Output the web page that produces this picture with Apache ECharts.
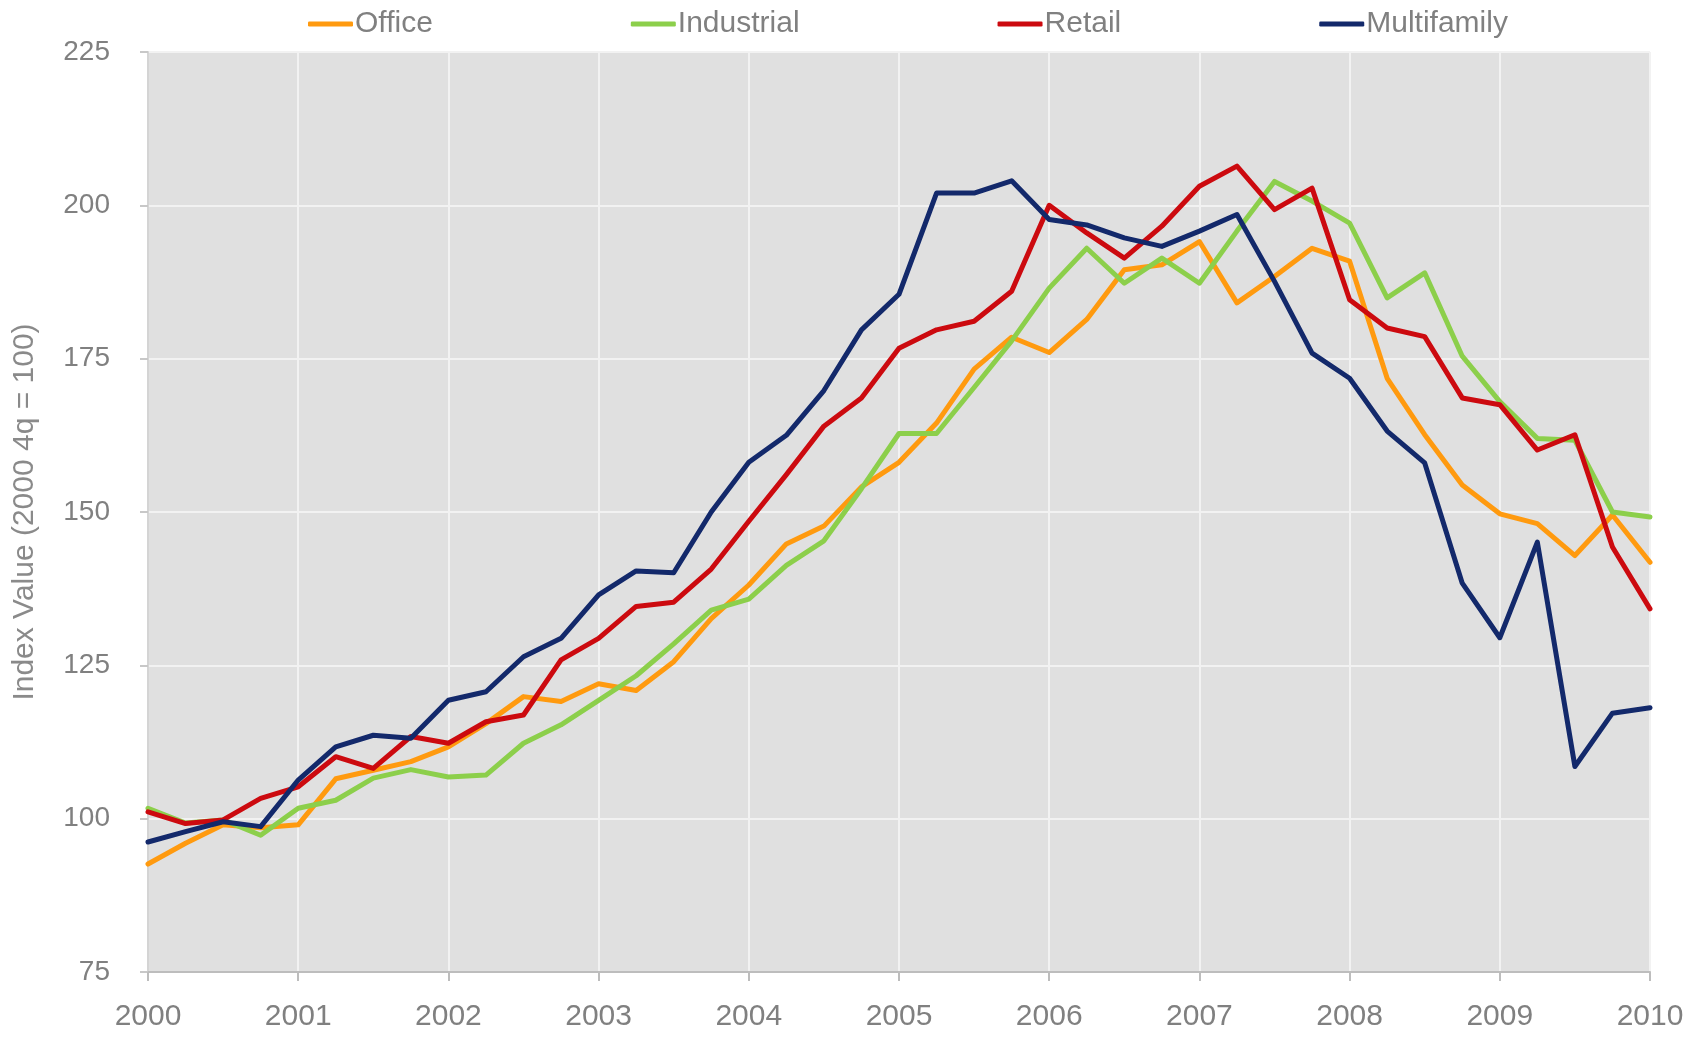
<!DOCTYPE html>
<html>
<head>
<meta charset="utf-8">
<title>Index Value</title>
<script src="https://cdn.jsdelivr.net/npm/echarts@6/dist/echarts.min.js"></script>
<style>
  html, body { margin: 0; padding: 0; background: #fff; }
  #chart { width: 1697px; height: 1037px; }
</style>
</head>
<body>
<div id="chart"></div>
<script>
// 年份（每年4个季度，2000 到 2010）
var years = ['2000', '2001', '2002', '2003', '2004', '2005', '2006', '2007', '2008', '2009', '2010'];

var office = [92.6, 96.0, 99.0, 98.5, 99.0, 106.5, 107.9, 109.3, 111.7, 115.5, 119.9, 119.1, 122.0, 120.9, 125.6, 132.6, 138.1, 144.8, 147.7, 154.1, 158.1, 164.5, 173.3, 178.5, 176.0, 181.4, 189.5, 190.3, 194.1, 184.1, 188.4, 193.0, 190.9, 171.8, 162.6, 154.4, 149.7, 148.1, 142.9, 149.5, 141.8];
var industrial = [101.7, 99.3, 99.8, 97.3, 101.7, 103.0, 106.6, 108.0, 106.8, 107.1, 112.3, 115.3, 119.3, 123.3, 128.5, 134.0, 135.8, 141.3, 145.3, 153.8, 162.8, 162.8, 170.3, 177.9, 186.5, 193.0, 187.3, 191.4, 187.3, 195.8, 203.9, 200.7, 197.1, 184.9, 189.0, 175.4, 168.0, 162.0, 161.7, 150.0, 149.2];
var retail = [101.1, 99.2, 99.8, 103.3, 105.2, 110.1, 108.2, 113.4, 112.3, 115.8, 116.9, 125.9, 129.4, 134.6, 135.3, 140.7, 148.5, 156.1, 164.0, 168.6, 176.7, 179.7, 181.1, 186.0, 200.0, 195.5, 191.4, 196.6, 203.1, 206.4, 199.3, 202.8, 184.6, 180.0, 178.6, 168.6, 167.5, 160.1, 162.6, 144.3, 134.2];
var multifamily = [96.2, 97.9, 99.5, 98.7, 106.3, 111.7, 113.6, 113.1, 119.3, 120.7, 126.4, 129.4, 136.5, 140.4, 140.1, 150.0, 158.1, 162.5, 169.8, 179.7, 185.5, 202.0, 202.0, 204.0, 197.7, 196.8, 194.7, 193.3, 195.8, 198.5, 187.6, 175.9, 171.8, 163.2, 158.0, 138.4, 129.5, 145.1, 108.5, 117.2, 118.1];

var quarters = [];
for (var i = 0; i < years.length; i++) {
  for (var q = 1; q <= 4; q++) {
    if (quarters.length < office.length) quarters.push(years[i] + 'Q' + q);
  }
}

var gray = '#808080';
var font = 'Liberation Sans, Arial, sans-serif';

function line (name, data, color) {
  return {
    name: name,
    type: 'line',
    data: data,
    symbol: 'none',
    lineStyle: { width: 5, color: color, join: 'round', cap: 'round' },
    itemStyle: { color: color }
  };
}

var chart = echarts.init(document.getElementById('chart'));
chart.setOption({
  backgroundColor: '#fff',
  animation: false,
  textStyle: { fontFamily: font },
  legend: {
    top: 4,
    left: 303,
    itemGap: 198,
    itemWidth: 45,
    itemHeight: 5,
    icon: 'roundRect',
    textStyle: { color: gray, fontSize: 30, fontFamily: font, padding: [0, 0, 0, -3] },
    data: ['Office', 'Industrial', 'Retail', 'Multifamily']
  },
  grid: {
    left: 148,
    right: 47,
    top: 52,
    bottom: 65,
    show: true,
    backgroundColor: '#e0e0e0',
    borderWidth: 0
  },
  xAxis: {
    type: 'category',
    boundaryGap: false,
    data: quarters,
    axisLine: { lineStyle: { color: '#bdbdbd', width: 2 } },
    axisTick: { interval: 3, length: 9, lineStyle: { color: '#bdbdbd', width: 2 } },
    axisLabel: {
      interval: 3,
      color: gray,
      fontSize: 30,
      margin: 30,
      fontFamily: font,
      formatter: function (v) { return v.slice(0, 4); }
    },
    splitLine: { show: true, interval: 3, lineStyle: { color: '#f2f2f2', width: 2 } }
  },
  yAxis: {
    type: 'value',
    min: 75,
    max: 225,
    interval: 25,
    name: 'Index Value (2000 4q = 100)',
    nameLocation: 'middle',
    nameGap: 108,
    nameTextStyle: { color: '#8a8a8a', fontSize: 30, fontFamily: font },
    axisLine: { show: true, lineStyle: { color: '#d4d4d4', width: 2 } },
    axisTick: { show: true, length: 8, lineStyle: { color: '#c8c8c8', width: 2 } },
    axisLabel: { color: gray, fontSize: 28, margin: 38, fontFamily: font },
    splitLine: { lineStyle: { color: '#f2f2f2', width: 2 } }
  },
  series: [
    line('Office', office, '#ff9a0f'),
    line('Industrial', industrial, '#8ccf4b'),
    line('Retail', retail, '#cc0a0f'),
    line('Multifamily', multifamily, '#13296b')
  ]
});
</script>
</body>
</html>
